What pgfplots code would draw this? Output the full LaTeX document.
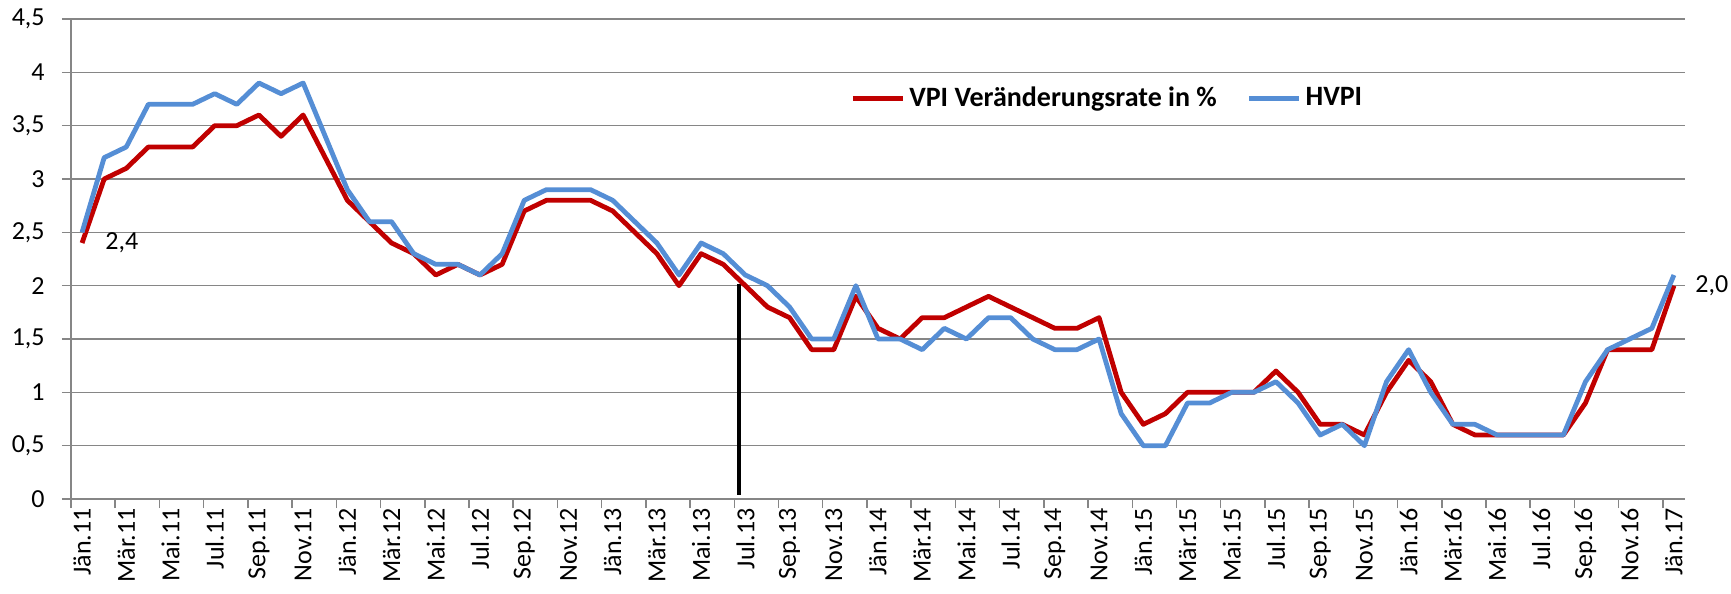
\documentclass[border=0pt]{standalone}
\usepackage{pgfplots}
\pgfplotsset{compat=1.18}
\usepackage{pgfplotstable}
\usepackage{fontspec}
\setmainfont{Carlito}
\definecolor{vpired}{RGB}{192,0,0}
\definecolor{hvpiblue}{RGB}{85,142,213}
\definecolor{gridgray}{RGB}{134,134,134}
\newcommand{\lbl}{\fontsize{13pt}{15.6pt}\selectfont}
\newcommand{\lgd}{\fontsize{14pt}{16.8pt}\selectfont\bfseries}

\pgfplotstableread{
i vpi hvpi
0 2.4 2.5
1 3.0 3.2
2 3.1 3.3
3 3.3 3.7
4 3.3 3.7
5 3.3 3.7
6 3.5 3.8
7 3.5 3.7
8 3.6 3.9
9 3.4 3.8
10 3.6 3.9
11 3.2 3.4
12 2.8 2.9
13 2.6 2.6
14 2.4 2.6
15 2.3 2.3
16 2.1 2.2
17 2.2 2.2
18 2.1 2.1
19 2.2 2.3
20 2.7 2.8
21 2.8 2.9
22 2.8 2.9
23 2.8 2.9
24 2.7 2.8
25 2.5 2.6
26 2.3 2.4
27 2.0 2.1
28 2.3 2.4
29 2.2 2.3
30 2.0 2.1
31 1.8 2.0
32 1.7 1.8
33 1.4 1.5
34 1.4 1.5
35 1.9 2.0
36 1.6 1.5
37 1.5 1.5
38 1.7 1.4
39 1.7 1.6
40 1.8 1.5
41 1.9 1.7
42 1.8 1.7
43 1.7 1.5
44 1.6 1.4
45 1.6 1.4
46 1.7 1.5
47 1.0 0.8
48 0.7 0.5
49 0.8 0.5
50 1.0 0.9
51 1.0 0.9
52 1.0 1.0
53 1.0 1.0
54 1.2 1.1
55 1.0 0.9
56 0.7 0.6
57 0.7 0.7
58 0.6 0.5
59 1.0 1.1
60 1.3 1.4
61 1.1 1.0
62 0.7 0.7
63 0.6 0.7
64 0.6 0.6
65 0.6 0.6
66 0.6 0.6
67 0.6 0.6
68 0.9 1.1
69 1.4 1.4
70 1.4 1.5
71 1.4 1.6
72 2.0 2.1
}\datatable

\begin{document}
\begin{tikzpicture}
\useasboundingbox (-35.5pt,-47.5pt) rectangle (830pt,249.5pt);
\begin{axis}[
  at={(0pt,0pt)}, anchor=south west,
  scale only axis, width=807pt, height=240pt,
  xmin=-0.5, xmax=72.5, ymin=0, ymax=4.5,
  clip=false,
  axis x line*=bottom, axis y line*=left,
  axis line style={draw=gridgray, line width=0.75pt},
  ytick={0,0.5,1,1.5,2,2.5,3,3.5,4,4.5},
  ymajorgrids, grid style={draw=gridgray, line width=0.75pt},
  /pgf/number format/use comma,
  /pgf/number format/assume math mode=true,
  tick align=outside,
  major tick length=4.5pt,
  tick style={draw=gridgray, line width=0.75pt},
  tick label style={font=\lbl},
  yticklabel style={inner sep=0pt, anchor=east, xshift=-8.5pt},
  xticklabel style={rotate=90, anchor=east, inner sep=0pt, font=\lbl},
  xticklabel shift=4.5pt,
  xtick={-0.5,1.5,...,71.5},
  xticklabels={},
  extra x ticks={0,2,...,72},
  extra x tick labels={J\"an.11,M\"ar.11,Mai.11,Jul.11,Sep.11,Nov.11,J\"an.12,M\"ar.12,Mai.12,Jul.12,Sep.12,Nov.12,J\"an.13,M\"ar.13,Mai.13,Jul.13,Sep.13,Nov.13,J\"an.14,M\"ar.14,Mai.14,Jul.14,Sep.14,Nov.14,J\"an.15,M\"ar.15,Mai.15,Jul.15,Sep.15,Nov.15,J\"an.16,M\"ar.16,Mai.16,Jul.16,Sep.16,Nov.16,J\"an.17},
  extra x tick style={major tick length=0pt},
  legend style={draw=none, fill=none, font=\lgd, at={(rel axis cs:0.4827,0.835)}, anchor=west, inner sep=0pt, legend columns=2, /tikz/every even column/.append style={column sep=13pt}},
  legend image code/.code={\draw[#1] (0pt,0pt) -- (25pt,0pt);},
]
\addplot[black, line width=2.1pt, forget plot] coordinates {(29.7,0.04) (29.7,2.02)};
\addplot[vpired, line width=2.4pt, line join=round] table[x=i,y=vpi]{\datatable};
\addlegendentry{VPI Veränderungsrate in \%}
\addplot[hvpiblue, line width=2.4pt, line join=round] table[x=i,y=hvpi]{\datatable};
\addlegendentry{HVPI}
\node[font=\lbl, anchor=west, inner sep=0pt, xshift=11.5pt] at (axis cs:0,2.4) {2,4};
\node[font=\lbl, anchor=west, inner sep=0pt, xshift=10.5pt] at (axis cs:72,2.0) {2,0};
\end{axis}
\end{tikzpicture}
\end{document}
